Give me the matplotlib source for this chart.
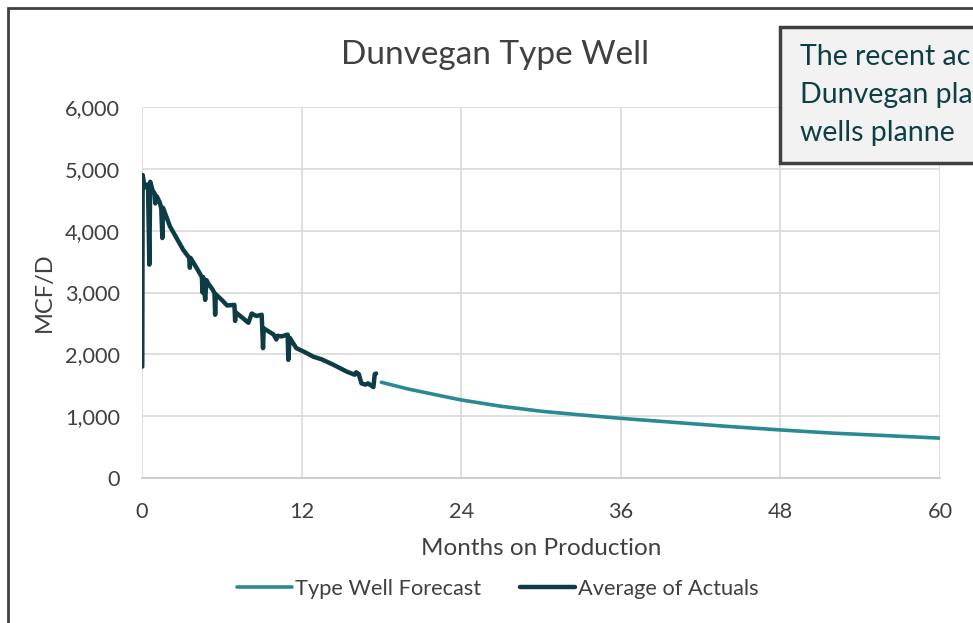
import matplotlib
matplotlib.use("Agg")
import matplotlib.pyplot as plt
from matplotlib.patches import Rectangle
from matplotlib.ticker import FuncFormatter

plt.rcParams['font.family'] = ['Lato', 'DejaVu Sans']

# Average of actuals (months on production, MCF/D)
actual_months = [0.02, 0.05, 0.2, 0.45, 0.55, 0.62, 0.8, 0.95, 1.0, 1.1, 1.35, 1.45, 1.53, 1.58,
                 2.1, 2.6, 3.1, 3.55, 3.6, 3.65, 4.1, 4.5, 4.55, 4.6, 4.75, 4.85, 5.0, 5.3, 5.45,
                 5.5, 5.55, 6.0, 6.4, 6.95, 7.0, 7.05, 7.5, 8.0, 8.25, 8.6, 9.0, 9.1, 9.15, 9.6,
                 9.9, 10.1, 10.2, 10.5, 10.95, 11.0, 11.1, 11.6, 12.2, 12.9, 13.5, 14.4, 15.4,
                 16.0, 16.1, 16.3, 16.5, 16.8, 17.0, 17.4, 17.5, 17.6]
actual_rate = [1801, 4900, 4700, 4750, 3450, 4790, 4650, 4600, 4440, 4560, 4450, 4350, 3880, 4370,
               4070, 3880, 3690, 3560, 3400, 3560, 3400, 3250, 3000, 3250, 2880, 3200, 3140, 3050, 2990,
               2640, 2970, 2880, 2790, 2800, 2540, 2680, 2600, 2510, 2660, 2620, 2640, 2100, 2420, 2360,
               2320, 2240, 2300, 2290, 2320, 1910, 2270, 2100, 2040, 1960, 1920, 1830, 1720,
               1670, 1710, 1680, 1530, 1510, 1530, 1470, 1680, 1690]

# Type well forecast
forecast_months = [18, 20, 22, 24, 27, 30, 33, 36, 40, 44, 48, 52, 56, 60]
forecast_rate = [1548, 1440, 1350, 1262, 1160, 1080, 1020, 965, 900, 835, 777, 725, 685, 645]

x_ticks = [0, 12, 24, 36, 48, 60]
y_ticks = [0, 1000, 2000, 3000, 4000, 5000, 6000]

# note box text, as much as is visible before the right edge
note_lines = ["The recent ac", "Dunvegan pla", "wells planne"]

text_col = '#404040'
fig = plt.figure(figsize=(9.73, 6.23), dpi=100)
ax = fig.add_axes([142 / 973, 1 - 478 / 623, 798 / 973, 371 / 623])

ax.plot(forecast_months, forecast_rate, color='#2a8a93', lw=2.6, label='Type Well Forecast',
        solid_capstyle='round')
ax.plot(actual_months, actual_rate, color='#0e3c44', lw=3.2, label='Average of Actuals',
        solid_capstyle='round', solid_joinstyle='round')

ax.set_xlim(0, 60)
ax.set_ylim(0, 6000)
ax.set_xticks(x_ticks)
ax.set_yticks(y_ticks)
ax.yaxis.set_major_formatter(FuncFormatter(lambda v, p: f'{int(v):,}'))
ax.grid(True, color='#d9d9d9', lw=1.2)
ax.set_axisbelow(True)
for s in ['top', 'right', 'left']:
    ax.spines[s].set_visible(False)
ax.spines['bottom'].set_color('#c8c8c8')
ax.spines['bottom'].set_linewidth(1.2)
ax.tick_params(length=0, labelsize=15.7, colors=text_col)
ax.tick_params(axis='x', pad=17)
ax.tick_params(axis='y', pad=16)

ax.set_xlabel('Months on Production', fontsize=17.5, color=text_col, labelpad=12)
ax.set_ylabel('MCF/D', fontsize=17, color=text_col, labelpad=7)
fig.text(495 / 973, 1 - 55 / 623, 'Dunvegan Type Well', fontsize=24, color=text_col,
         ha='center', va='center')

fig.legend(loc='center', bbox_to_anchor=(498 / 973, 1 - 589 / 623), ncol=2, frameon=False,
           fontsize=15.7, handlelength=2.5, handletextpad=0.15, columnspacing=1.8,
           labelcolor=text_col)

# outer chart border (partially visible)
fig.add_artist(Rectangle((7.5 / 973, -0.2), 2, 1.2 - 8 / 623, transform=fig.transFigure,
                         fill=False, edgecolor='#404040', lw=2))

# annotation box, cut off at the right edge
fig.add_artist(Rectangle((780 / 973, 1 - 163 / 623), 0.5, 136 / 623, transform=fig.transFigure,
                         facecolor='#f2f2f2', edgecolor='#404040', lw=2.5, zorder=5))
for i, line in enumerate(note_lines):
    fig.text(800 / 973, 1 - (57 + 38 * i) / 623, line, fontsize=20.5, color='#0e3e46',
             ha='left', va='center', zorder=6)

fig.savefig('out.png', dpi=100)
